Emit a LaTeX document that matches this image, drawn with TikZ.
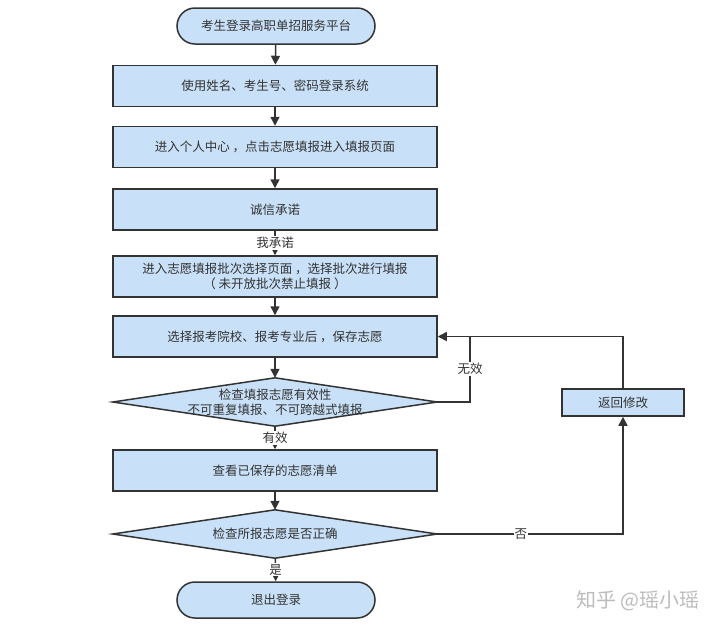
\documentclass[tikz,border=0pt]{standalone}
\usepackage{fontspec}
\setmainfont{Noto Sans CJK SC}
\usetikzlibrary{arrows.meta,backgrounds}
\definecolor{boxfill}{HTML}{C9E1F8}
\definecolor{edge}{HTML}{333333}
\definecolor{txt}{HTML}{333333}
\definecolor{wm}{HTML}{BBBBBB}
\tikzset{
  base/.style={draw=edge,line width=1.5pt,fill=boxfill,text=txt,font=\fontsize{12.5}{15}\selectfont,inner sep=0pt,align=center},
  termbox/.style={base,rectangle,rounded corners=18pt,minimum width=198pt,minimum height=36pt},
  procbox/.style={base,rectangle,minimum width=324pt,minimum height=41pt},
  smallbox/.style={base,rectangle,minimum width=122pt,minimum height=27pt},
  decbox/.style={rectangle,text=txt,font=\fontsize{12.5}{15}\selectfont,inner sep=0pt,align=center,minimum width=324pt,minimum height=48pt},
  decshape/.style={draw=edge,line width=1.5pt,fill=boxfill,line join=miter},
  conn/.style={draw=edge,line width=1.5pt},
  arr/.style={conn,-{Triangle[length=9pt,width=9pt]}},
  lbl/.style={fill=white,text=txt,font=\fontsize{12.5}{15}\selectfont,inner sep=1pt}
}
\begin{document}
\begin{tikzpicture}[x=1pt,y=-1pt]
\useasboundingbox (0,0) rectangle (720,630);
\node[termbox] (start) at (276,26) {考生登录高职单招服务平台};
\node[procbox] (b1) at (275,86) {使用姓名、考生号、密码登录系统};
\node[procbox] (b2) at (275,147) {进入个人中心 ，点击志愿填报进入填报页面};
\node[procbox] (b3) at (275,209.5) {诚信承诺};
\node[procbox] (b4) at (275,276.5) {进入志愿填报批次选择页面 ，选择批次进行填报\\（ 未开放批次禁止填报 ）};
\node[procbox] (b5) at (275,336.5) {选择报考院校、报考专业后 ，保存志愿};
\node[decbox] (d1) at (275,402) {检查填报志愿有效性\\不可重复填报、不可跨越式填报};
\node[procbox] (b6) at (275,470.5) {查看已保存的志愿清单};
\node[decbox] (d2) at (275,534) {检查所报志愿是否正确};
\node[termbox] (end) at (276,600) {退出登录};
\node[smallbox] (back) at (623,402.5) {返回修改};
\node[text=wm,font=\fontsize{20}{24}\selectfont,anchor=east] (wmk) at (703,601) {知乎 @瑶小瑶};
\begin{pgfonlayer}{background}
\draw[decshape] (d1.north) -- (d1.east) -- (d1.south) -- (d1.west) -- cycle;
\draw[decshape] (d2.north) -- (d2.east) -- (d2.south) -- (d2.west) -- cycle;
\end{pgfonlayer}
\coordinate (j1) at (470,336.5);
\coordinate (j2) at (470,402);

\draw[arr] (start) -- (b1);
\draw[arr] (b1) -- (b2);
\draw[arr] (b2) -- (b3);
\draw[arr] (b3) -- node[lbl]{我承诺} (b4);
\draw[arr] (b4) -- (b5);
\draw[arr] (b5) -- (d1);
\draw[arr] (d1) -- node[lbl]{有效} (b6);
\draw[arr] (b6) -- (d2);
\draw[arr] (d2) -- node[lbl]{是} (end);
\draw[arr] (d2.east) -| node[lbl,pos=0.225]{否} (back.south);
\draw[arr] (back.north) |- (b5.east);
\draw[conn] (d1.east) -- (j2) -- node[lbl]{无效} (j1);
\end{tikzpicture}
\end{document}
